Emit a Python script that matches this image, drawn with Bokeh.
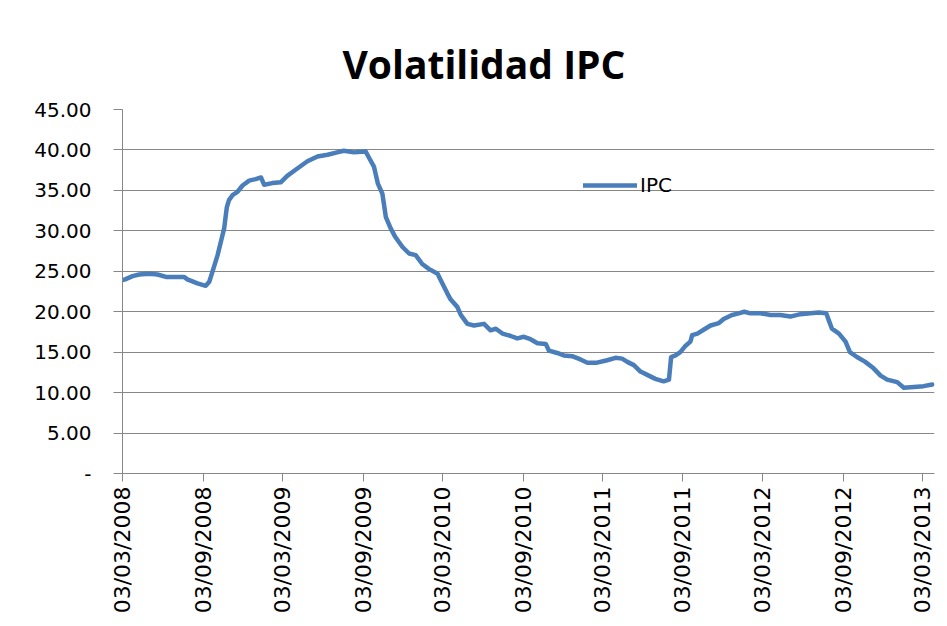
import math
import pandas as pd
from bokeh.plotting import figure
from bokeh.models import (Range1d, FixedTicker, DatetimeTickFormatter, CustomJSTickFormatter,
                          Legend, LegendItem, ColumnDataSource, Title)
from bokeh.embed import file_html
from bokeh.resources import INLINE

# ---- data ----
dates = [
    "2008-03-03", "2008-03-09", "2008-03-26", "2008-04-10", "2008-05-03", "2008-05-22",
    "2008-06-10", "2008-07-22", "2008-07-29", "2008-08-21", "2008-09-09", "2008-09-17",
    "2008-09-24", "2008-10-06", "2008-10-16", "2008-10-21", "2008-10-27", "2008-11-01",
    "2008-11-09", "2008-11-20", "2008-12-02", "2008-12-17", "2009-01-01", "2009-01-13",
    "2009-01-20", "2009-02-08", "2009-02-27", "2009-03-14", "2009-04-06", "2009-04-29",
    "2009-05-22", "2009-06-14", "2009-07-06", "2009-07-21", "2009-08-13", "2009-09-09",
    "2009-09-16", "2009-09-28", "2009-10-07", "2009-10-17", "2009-10-25", "2009-11-05",
    "2009-11-16", "2009-12-02", "2009-12-17", "2010-01-01", "2010-01-16", "2010-01-31",
    "2010-02-20", "2010-03-03", "2010-03-14", "2010-03-22", "2010-04-06", "2010-04-14",
    "2010-04-29", "2010-05-14", "2010-06-06", "2010-06-21", "2010-07-03", "2010-07-18",
    "2010-08-06", "2010-08-21", "2010-09-05", "2010-09-20", "2010-10-06", "2010-10-25",
    "2010-11-01", "2010-11-20", "2010-12-05", "2010-12-24", "2011-01-12", "2011-01-28",
    "2011-02-19", "2011-03-14", "2011-04-02", "2011-04-17", "2011-04-29", "2011-05-14",
    "2011-05-29", "2011-06-17", "2011-07-02", "2011-07-21", "2011-08-02", "2011-08-07",
    "2011-08-17", "2011-08-28", "2011-09-09", "2011-09-20", "2011-09-24", "2011-10-06",
    "2011-10-21", "2011-11-05", "2011-11-24", "2011-12-05", "2011-12-24", "2012-01-08",
    "2012-01-21", "2012-02-04", "2012-02-27", "2012-03-21", "2012-04-12", "2012-05-05",
    "2012-05-28", "2012-06-20", "2012-07-09", "2012-07-26", "2012-08-01", "2012-08-08",
    "2012-08-24", "2012-09-08", "2012-09-18", "2012-10-04", "2012-10-23", "2012-11-11",
    "2012-11-27", "2012-12-12", "2013-01-04", "2013-01-19", "2013-02-11", "2013-03-05",
    "2013-03-25",
]
ipc = [
    23.9, 24.0, 24.4, 24.6, 24.7, 24.6,
    24.3, 24.3, 24.0, 23.5, 23.2, 23.7,
    24.9, 27.0, 29.2, 30.3, 32.9, 33.8,
    34.4, 34.8, 35.6, 36.2, 36.4, 36.6,
    35.7, 35.9, 36.0, 36.8, 37.7, 38.6,
    39.2, 39.4, 39.7, 39.9, 39.7, 39.8,
    39.1, 37.9, 35.8, 34.6, 31.7, 30.3,
    29.2, 28.0, 27.2, 27.0, 25.9, 25.3,
    24.7, 23.5, 22.3, 21.5, 20.6, 19.6,
    18.5, 18.3, 18.5, 17.7, 17.9, 17.3,
    17.0, 16.7, 16.9, 16.6, 16.1, 16.0,
    15.2, 14.9, 14.6, 14.5, 14.1, 13.7,
    13.7, 14.0, 14.3, 14.2, 13.8, 13.4,
    12.6, 12.1, 11.7, 11.4, 11.6, 14.4,
    14.6, 15.0, 15.8, 16.3, 17.1, 17.3,
    17.8, 18.3, 18.6, 19.1, 19.6, 19.8,
    20.0, 19.8, 19.8, 19.6, 19.6, 19.4,
    19.7, 19.8, 19.9, 19.8, 18.9, 17.9,
    17.3, 16.3, 15.0, 14.4, 13.8, 13.0,
    12.1, 11.6, 11.3, 10.6, 10.7, 10.8,
    11.0,
]
tick_dates = ["2008-03-03", "2008-09-03", "2009-03-03", "2009-09-03", "2010-03-03",
              "2010-09-03", "2011-03-03", "2011-09-03", "2012-03-03", "2012-09-03",
              "2013-03-03"]
y_ticks = [0, 5, 10, 15, 20, 25, 30, 35, 40, 45]
x_start, x_end = "2008-03-03", "2013-03-30"

GRAY = "#878787"
BLUE = "#4A7EBB"
TICK_FONT = "DejaVu Sans"

src = ColumnDataSource(dict(date=pd.to_datetime(dates), ipc=ipc))

p = figure(width=939, height=618, x_axis_type="datetime",
           output_backend="svg", toolbar_location=None,
           x_range=Range1d(pd.Timestamp(x_start), pd.Timestamp(x_end)),
           y_range=Range1d(y_ticks[0], y_ticks[-1]),
           min_border_left=122, min_border_right=5, min_border_top=109,
           min_border_bottom=145)
p.outline_line_color = None
p.background_fill_color = "white"
p.border_fill_color = "white"

# title
p.add_layout(Title(text="Volatilidad IPC", text_font="Open Sans", text_font_style="bold",
                   text_font_size="39px", text_color="black", align="left",
                   offset=220, standoff=40), "above")

# grid
p.xgrid.grid_line_color = None
p.ygrid.grid_line_color = GRAY
p.ygrid.grid_line_width = 1

# x axis
xa = p.xaxis[0]
xa.ticker = FixedTicker(ticks=[pd.Timestamp(d).value / 1e6 for d in tick_dates])
fmt = "%d/%m/%Y"
xa.formatter = DatetimeTickFormatter(milliseconds=fmt, seconds=fmt, minsec=fmt, minutes=fmt,
                                     hourmin=fmt, hours=fmt, days=fmt, months=fmt, years=fmt)
xa.major_label_orientation = math.pi / 2
xa.major_label_text_font = TICK_FONT
xa.major_label_text_font_size = "22px"
xa.major_label_text_color = "black"
xa.major_label_standoff = 5
xa.axis_line_color = GRAY
xa.major_tick_line_color = GRAY
xa.major_tick_out = 8
xa.major_tick_in = 0
xa.minor_tick_line_color = None

# y axis
ya = p.yaxis[0]
ya.ticker = FixedTicker(ticks=y_ticks)
ya.formatter = CustomJSTickFormatter(code="return tick == 0 ? '-' : tick.toFixed(2);")
ya.major_label_text_font = TICK_FONT
ya.major_label_text_font_size = "20px"
ya.major_label_text_color = "black"
ya.major_label_standoff = 22
ya.axis_line_color = GRAY
ya.major_tick_line_color = GRAY
ya.major_tick_out = 9
ya.major_tick_in = 0
ya.minor_tick_line_color = None

r = p.line("date", "ipc", source=src, line_color=BLUE, line_width=4.5,
           line_join="round", line_cap="round")

legend = Legend(items=[LegendItem(label="IPC", renderers=[r])],
                location=(461, 276), padding=0, margin=0, spacing=0,
                glyph_width=54, glyph_height=20, label_height=20, label_standoff=3,
                border_line_color=None, background_fill_alpha=0,
                label_text_font=TICK_FONT, label_text_font_size="20px",
                label_text_color="black")
p.add_layout(legend)

open("out.html", "w").write(file_html(p, INLINE))
